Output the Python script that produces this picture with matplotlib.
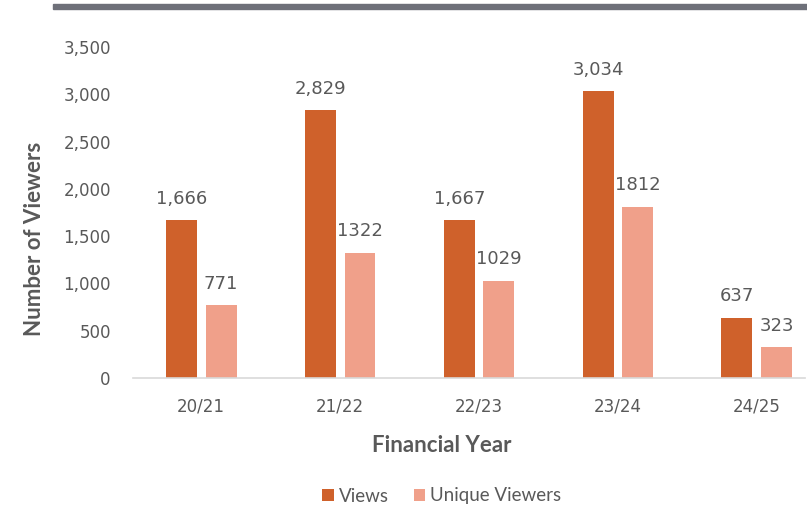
import matplotlib
matplotlib.use("Agg")
import matplotlib.pyplot as plt
from matplotlib.patches import Rectangle
import numpy as np

years = ["20/21", "21/22", "22/23", "23/24", "24/25"]
views = [1666, 2829, 1667, 3034, 637]
unique = [771, 1322, 1029, 1812, 323]
views_labels = ["1,666", "2,829", "1,667", "3,034", "637"]
unique_labels = ["771", "1322", "1029", "1812", "323"]

c_views = "#CF612B"
c_unique = "#F0A08A"
grey = "#595959"

fig = plt.figure(figsize=(8.07, 5.07), dpi=100)
ax = fig.add_axes([133/807, 1 - 378/507, (805-133)/807, (378-47)/507])

x = np.arange(len(years))
w = 0.223
b1 = ax.bar(x - 0.14, views, w, color=c_views)
b2 = ax.bar(x + 0.145, unique, w, color=c_unique)

for bars, labels in [(b1, views_labels), (b2, unique_labels)]:
    for r, t in zip(bars, labels):
        ax.annotate(t, (r.get_x() + r.get_width()/2, r.get_height()), xytext=(0, 9),
                    textcoords="offset points", ha="center", va="bottom",
                    fontsize=13, color=grey, family="DejaVu Sans")

ax.set_xlim(-0.49, 4.35)
ax.set_ylim(0, 3500)
ax.set_yticks(range(0, 3501, 500))
ax.set_yticklabels([f"{v:,}" for v in range(0, 3501, 500)], family="DejaVu Sans",
                   fontsize=12, color=grey)
ax.set_xticks(x)
ax.set_xticklabels(years, family="DejaVu Sans", fontsize=12, color=grey)
ax.tick_params(length=0)
ax.tick_params(axis="y", pad=16)
ax.tick_params(axis="x", pad=14)
for s in ["top", "right", "left"]:
    ax.spines[s].set_visible(False)
ax.spines["bottom"].set_color("#d9d9d9")
ax.spines["bottom"].set_linewidth(1.2)

fig.text(442/807, 1 - 446/507, "Financial Year", fontsize=16, fontweight="bold",
         color=grey, family="Lato", ha="center", va="center")
fig.text(35/807, 1 - 239/507, "Number of Viewers", fontsize=16, fontweight="bold",
         color=grey, family="Lato", ha="center", va="center", rotation=90)

fig.legend([b1, b2], ["Views", "Unique Viewers"], loc="center",
           bbox_to_anchor=(442/807, 1 - 496/507),
           ncol=2, frameon=False, prop={"family": "Lato", "size": 13.5}, labelcolor=grey,
           handlelength=0.6, handleheight=0.6, handletextpad=0.3, columnspacing=1.3)

fig.add_artist(Rectangle((53/807, 1 - 9/507), 1, 5/507, transform=fig.transFigure,
                         color="#6e7079", clip_on=False))

fig.savefig("out.png", dpi=100)
